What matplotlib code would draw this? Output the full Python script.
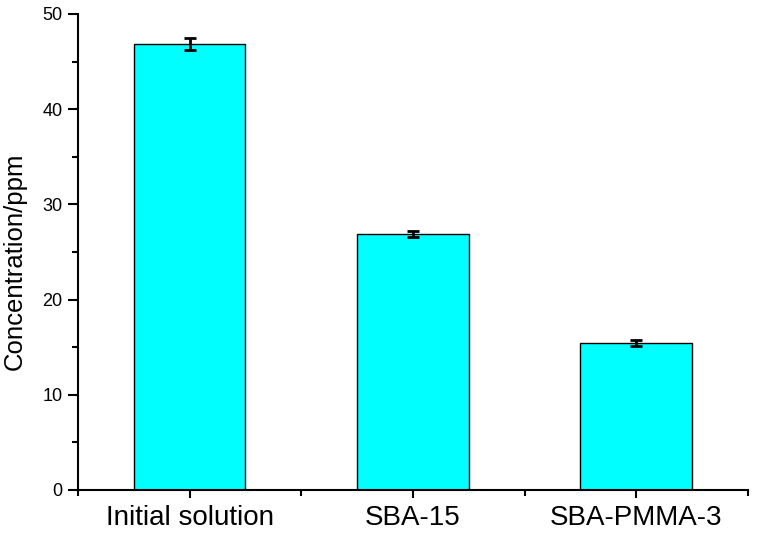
import numpy as np
import matplotlib
matplotlib.use('Agg')
from matplotlib import pyplot as plt
from matplotlib.ticker import MultipleLocator, FixedLocator

categories = ['Initial solution', 'SBA-15', 'SBA-PMMA-3']
concentration = [46.85, 26.9, 15.4]
errors = [0.6, 0.35, 0.3]

plt.rcParams['font.family'] = ['Liberation Sans', 'DejaVu Sans']

fig = plt.figure(figsize=(7.57, 5.36), dpi=100)
ax = fig.add_axes([0.103, 0.086, 0.885, 0.888])

x = np.arange(1, len(categories) + 1)
ax.bar(x, concentration, width=0.5, color='#00FFFF', edgecolor='black', linewidth=1.0, zorder=2)
ax.errorbar(x, concentration, yerr=errors, fmt='none', ecolor='black',
            elinewidth=2, capsize=4, capthick=2, zorder=3)

ax.set_xlim(0.5, 3.5)
ax.set_ylim(0, 50)
ax.set_xticks(x)
ax.set_xticklabels(categories, fontsize=20)
ax.xaxis.set_minor_locator(FixedLocator([0.5, 1.5, 2.5, 3.5]))
ax.yaxis.set_major_locator(MultipleLocator(10))
ax.yaxis.set_minor_locator(MultipleLocator(5))
ax.set_ylabel('Concentration/ppm', fontsize=18.5)
ax.yaxis.set_label_coords(-0.076, 0.48)

for s in ['top', 'right']:
    ax.spines[s].set_visible(False)
for s in ['left', 'bottom']:
    ax.spines[s].set_linewidth(1.5)

ax.tick_params(axis='y', which='major', direction='out', length=7, width=1.5, labelsize=13, pad=4)
ax.tick_params(axis='y', which='minor', direction='out', length=4, width=1.5)
ax.tick_params(axis='x', which='major', direction='out', length=6, width=1.5, pad=5)
ax.tick_params(axis='x', which='minor', direction='out', length=4, width=1.5)

fig.savefig('out.png', dpi=100)
